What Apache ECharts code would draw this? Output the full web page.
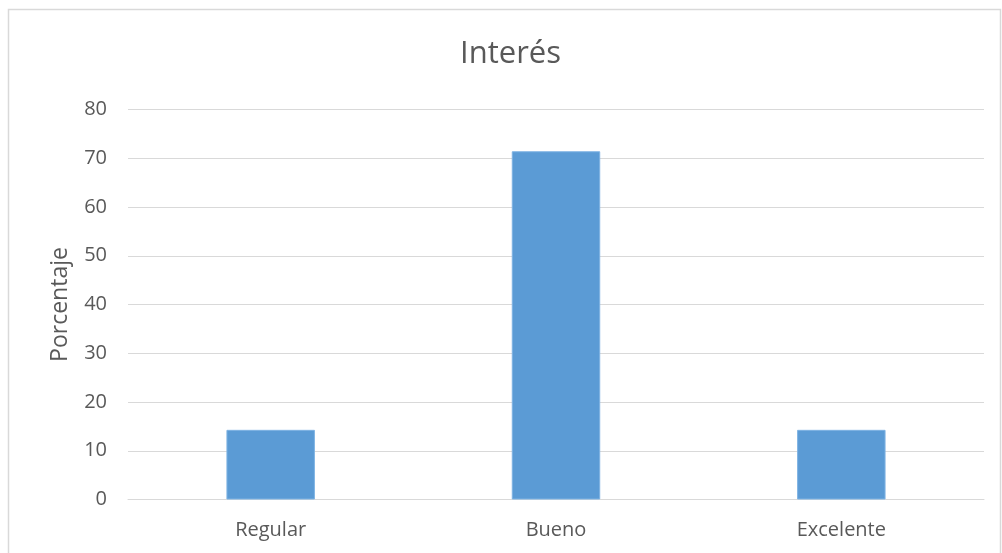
<!DOCTYPE html>
<html><head><meta charset="utf-8">
<script src="https://cdn.jsdelivr.net/npm/echarts@6/dist/echarts.min.js"></script>
<style>html,body{margin:0;padding:0;background:#fff}#c{width:1002px;height:553px}</style>
</head><body><div id="c"></div>
<script>
const categories = ['Regular', 'Bueno', 'Excelente'];
const values = [14.29, 71.43, 14.29];
const yTicks = [0, 10, 20, 30, 40, 50, 60, 70, 80];
const titleText = 'Interés';
const yName = 'Porcentaje';

const chart = echarts.init(document.getElementById('c'), null, {renderer: 'canvas'});
const font = "'Open Sans', 'Noto Sans', sans-serif";
chart.setOption({
  animation: false,
  backgroundColor: '#fff',
  title: {
    text: titleText, left: 455, top: 34,
    textStyle: {fontFamily: font, fontSize: 31, fontWeight: 'normal', color: '#595959'}
  },
  graphic: [{
    type: 'rect', shape: {x: 8.5, y: 9.5, width: 992, height: 560},
    style: {fill: 'none', stroke: '#D9D9D9', lineWidth: 1.5}, silent: true
  }],
  grid: {left: 128, right: 18, top: 109.5, bottom: 53.5, containLabel: false},
  xAxis: {
    type: 'category', data: categories,
    axisLine: {show: true, lineStyle: {color: '#D9D9D9', width: 1}},
    axisTick: {show: false},
    axisLabel: {color: '#595959', fontFamily: font, fontSize: 20, margin: 21}
  },
  yAxis: {
    type: 'value', min: yTicks[0], max: yTicks[yTicks.length - 1], interval: 10,
    name: yName, nameLocation: 'middle', nameGap: 56, nameRotate: 90,
    nameTextStyle: {color: '#595959', fontFamily: font, fontSize: 23},
    axisLine: {show: false}, axisTick: {show: false},
    axisLabel: {color: '#595959', fontFamily: font, fontSize: 20, margin: 21},
    splitLine: {lineStyle: {color: '#D9D9D9', width: 1}}
  },
  series: [{
    type: 'bar', data: values, barWidth: '31%',
    itemStyle: {color: '#5B9BD5', borderColor: '#7EB3E3', borderWidth: 1}
  }]
});
</script></body></html>
